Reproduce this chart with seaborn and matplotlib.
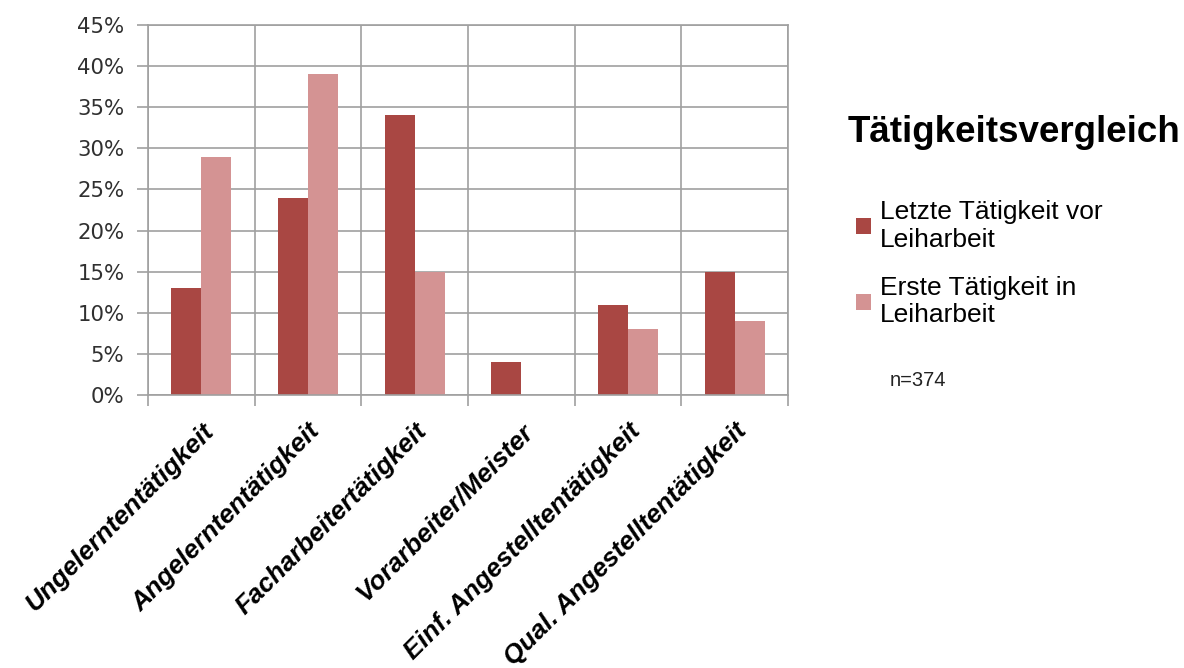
import seaborn as sns
import matplotlib.pyplot as plt
import pandas as pd
from matplotlib.ticker import FixedLocator, PercentFormatter

categories = ["Ungelerntentätigkeit", "Angelerntentätigkeit", "Facharbeitertätigkeit",
              "Vorarbeiter/Meister", "Einf. Angestelltentätigkeit", "Qual. Angestelltentätigkeit"]
letzte = [13, 24, 34, 4, 11, 15]
erste = [29, 39, 15, 0, 8, 9]
series = ["Letzte Tätigkeit vor\nLeiharbeit", "Erste Tätigkeit in\nLeiharbeit"]
colors = ["#A94743", "#D49393"]

rows = []
for cat, a, b in zip(categories, letzte, erste):
    rows.append((cat, series[0], a))
    rows.append((cat, series[1], b))
data = pd.DataFrame(rows, columns=["Tätigkeit", "Serie", "Anteil"])

sns.set_theme(style="white")
plt.rcParams['font.family'] = ['DejaVu Sans']

fig = plt.figure(figsize=(11.84, 6.68), dpi=100)
ax = fig.add_axes([148 / 1184, 1 - 395 / 668, 640 / 1184, 370 / 668])

sns.barplot(data=data, x="Tätigkeit", y="Anteil", hue="Serie", palette=colors,
            width=0.56, saturation=1, linewidth=0, ax=ax, legend=True)

ax.set_ylim(0, 45)
ax.set_xlim(-0.5, len(categories) - 0.5)
ax.yaxis.set_major_locator(FixedLocator(range(0, 50, 5)))
ax.yaxis.set_major_formatter(PercentFormatter(decimals=0))
ax.set_xlabel("")
ax.set_ylabel("")

grid_c = "#A0A0A0"
ax.xaxis.set_minor_locator(FixedLocator([i - 0.5 for i in range(len(categories) + 1)]))
ax.grid(axis="y", which="major", color=grid_c, linewidth=1.2)
ax.grid(axis="x", which="minor", color=grid_c, linewidth=1.2)
ax.set_axisbelow(True)
for s in ax.spines.values():
    s.set_color(grid_c)
    s.set_linewidth(1.2)

ax.tick_params(axis="y", which="major", left=True, length=8, color=grid_c, width=1.2,
               labelsize=15.3, pad=9, labelcolor="#303030")
ax.tick_params(axis="x", which="major", length=0, pad=17)
ax.tick_params(axis="x", which="minor", bottom=True, length=8, color=grid_c, width=1.2)

ax.set_xticks(range(len(categories)))
ax.set_xticklabels(categories, rotation=45, ha="right", rotation_mode="anchor",
                   fontsize=19, fontweight="bold", fontstyle="italic", color="black",
                   family=["Liberation Sans", "DejaVu Sans"])

handles, labels = ax.get_legend_handles_labels()
ax.legend_.remove()
fig.text(848 / 1184, 1 - 133 / 668, "Tätigkeitsvergleich", fontsize=26.5, fontweight="bold",
         family=["Liberation Sans"], va="center", ha="left", color="black")
leg = fig.legend(handles, labels, loc="upper left", bbox_to_anchor=(856 / 1184, 1 - 200 / 668),
                 frameon=False, prop={"family": "Liberation Sans", "size": 19},
                 handlelength=0.55, handleheight=0.55, handletextpad=0.35, labelspacing=0.9,
                 borderaxespad=0, borderpad=0)
for t in leg.get_texts():
    t.set_color("black")
fig.text(890 / 1184, 1 - 380 / 668, "n=374", fontsize=14.5, family=["Liberation Sans"],
         va="center", ha="left", color="#222222")

plt.savefig("out.png", dpi=100)
